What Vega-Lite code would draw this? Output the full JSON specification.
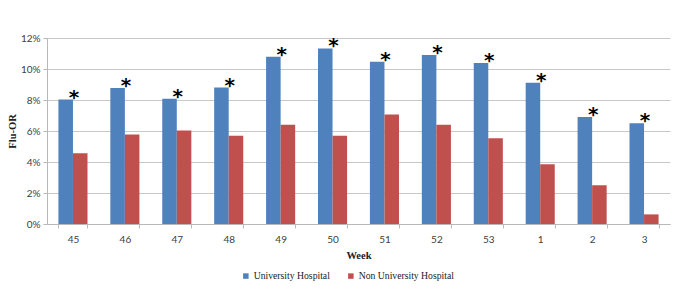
{
  "$schema": "https://vega.github.io/schema/vega-lite/v6.json",
  "autosize": "none",
  "width": 623,
  "height": 186,
  "padding": {"left": 47, "top": 38, "right": 15, "bottom": 72},
  "background": "white",
  "config": {
    "view": {"stroke": null},
    "axis": {"labelFont": "Lato", "labelFontSize": 10, "labelColor": "#404040", "titleFont": "Liberation Serif", "titleFontWeight": "bold", "titleFontSize": 10.5, "titleColor": "#222222", "domainColor": "#b8b8b8", "tickColor": "#b8b8b8", "gridColor": "#c8c8c8", "labelOverlap": false}
  },
  "data": {"values": [
    {"week": "45", "group": "University Hospital", "value": 0.0803},
    {"week": "45", "group": "Non University Hospital", "value": 0.0457},
    {"week": "46", "group": "University Hospital", "value": 0.0877},
    {"week": "46", "group": "Non University Hospital", "value": 0.0577},
    {"week": "47", "group": "University Hospital", "value": 0.0808},
    {"week": "47", "group": "Non University Hospital", "value": 0.0603},
    {"week": "48", "group": "University Hospital", "value": 0.0880},
    {"week": "48", "group": "Non University Hospital", "value": 0.0570},
    {"week": "49", "group": "University Hospital", "value": 0.1079},
    {"week": "49", "group": "Non University Hospital", "value": 0.0641},
    {"week": "50", "group": "University Hospital", "value": 0.1133},
    {"week": "50", "group": "Non University Hospital", "value": 0.0570},
    {"week": "51", "group": "University Hospital", "value": 0.1047},
    {"week": "51", "group": "Non University Hospital", "value": 0.0707},
    {"week": "52", "group": "University Hospital", "value": 0.1090},
    {"week": "52", "group": "Non University Hospital", "value": 0.0641},
    {"week": "53", "group": "University Hospital", "value": 0.1038},
    {"week": "53", "group": "Non University Hospital", "value": 0.0553},
    {"week": "1", "group": "University Hospital", "value": 0.0912},
    {"week": "1", "group": "Non University Hospital", "value": 0.0385},
    {"week": "2", "group": "University Hospital", "value": 0.0690},
    {"week": "2", "group": "Non University Hospital", "value": 0.0250},
    {"week": "3", "group": "University Hospital", "value": 0.0650},
    {"week": "3", "group": "Non University Hospital", "value": 0.0062}
  ]},
  "encoding": {
    "x": {"field": "week", "type": "nominal", "sort": null,
          "scale": {"paddingInner": 0.44, "paddingOuter": 0.22},
          "axis": {"title": "Week", "labelAngle": 0, "tickBand": "extent", "tickSize": 4, "labelPadding": 6, "titlePadding": 6}},
    "y": {"field": "value", "type": "quantitative",
          "scale": {"domain": [0, 0.12]},
          "axis": {"title": "Flu-OR", "format": ".0%", "values": [0, 0.02, 0.04, 0.06, 0.08, 0.1, 0.12], "tickCount": 12, "grid": true, "tickSize": 4, "labelPadding": 3, "titlePadding": 3}}
  },
  "layer": [
    {
      "mark": {"type": "bar"},
      "encoding": {
        "xOffset": {"field": "group", "type": "nominal", "sort": ["University Hospital", "Non University Hospital"]},
        "color": {"field": "group", "type": "nominal",
                  "sort": ["University Hospital", "Non University Hospital"],
                  "scale": {"domain": ["University Hospital", "Non University Hospital"], "range": ["#4F81BD", "#C0504D"]},
                  "legend": {"title": null, "orient": "none", "direction": "horizontal", "legendX": 194, "legendY": 233,
                             "symbolType": "square", "symbolSize": 30, "symbolStrokeWidth": 0, "labelFont": "Liberation Serif", "labelFontSize": 9.7, "labelColor": "#222222", "columnPadding": 16, "symbolOffset": 0, "labelOffset": 3}}
      }
    },
    {
      "transform": [{"filter": "datum.group === 'University Hospital'"}],
      "mark": {"type": "text", "text": "*", "font": "DejaVu Sans", "fontWeight": "bold", "fontSize": 20, "baseline": "alphabetic", "dy": 4, "dx": 1, "color": "black"},
      "encoding": {}
    }
  ]
}
